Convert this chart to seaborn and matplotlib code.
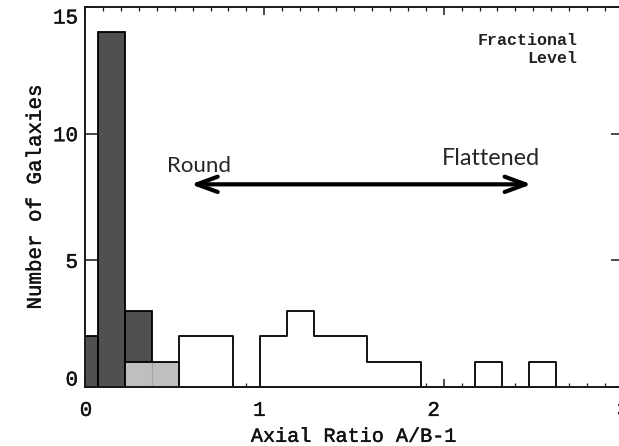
import numpy as np
import pandas as pd
import matplotlib
matplotlib.use("Agg")
import matplotlib.pyplot as plt
import matplotlib.patheffects as pe
from matplotlib.ticker import FixedLocator, MultipleLocator
from matplotlib.transforms import ScaledTranslation
import seaborn as sns

# Histogram of axial ratios: bin centres and counts per sample
bin_centers = [0.00, 0.15, 0.30, 0.45, 0.60, 0.75, 0.90, 1.05, 1.20,
               1.35, 1.50, 1.65, 1.80, 1.95, 2.10, 2.25, 2.40, 2.55]
dark_counts = [2, 14, 3, 0, 0, 0, 0, 0, 0, 0, 0, 0, 0, 0, 0, 0, 0, 0]
light_counts = [0, 0, 1, 1, 0, 0, 0, 0, 0, 0, 0, 0, 0, 0, 0, 0, 0, 0]
open_counts = [0, 0, 0, 0, 2, 2, 0, 2, 3, 2, 2, 1, 1, 0, 0, 1, 0, 1]
bin_width = 0.15

x_ticks = [0, 1, 2, 3]
y_ticks = [0, 5, 10, 15]

df = pd.DataFrame({"center": bin_centers, "dark": dark_counts,
                   "light": light_counts, "open": open_counts})
edges = [round(c - bin_width / 2, 4) for c in bin_centers]
edges.append(round(bin_centers[-1] + bin_width / 2, 4))

sns.set_style("ticks")
plt.rcParams["font.family"] = ["Liberation Mono", "DejaVu Sans Mono"]

W, H = 619, 446
fig = plt.figure(figsize=(W / 100, H / 100), dpi=100)
ax = fig.add_axes([85 / W, (H - 387) / H, 538 / W, 380 / H])

lw = 1.3
# open histogram (step outline)
sns.histplot(data=df, x="center", weights="open", bins=edges, element="step",
             fill=True, color="black", facecolor="white", edgecolor="black",
             linewidth=lw, alpha=1, ax=ax)
# dark bars
sns.histplot(data=df, x="center", weights="dark", bins=edges, element="bars",
             fill=True, color="black", facecolor="#505050", edgecolor="black",
             linewidth=lw, alpha=1, ax=ax)
# light bars with faint dividers, then a black outline around them
sns.histplot(data=df, x="center", weights="light", bins=edges, element="bars",
             fill=True, color="black", facecolor="#bfbfbf", edgecolor="#a6a6a6",
             linewidth=0.8, alpha=1, ax=ax)
sns.histplot(data=df, x="center", weights="light", bins=edges, element="step",
             fill=True, color="black", facecolor="none", edgecolor="black",
             linewidth=lw, alpha=1, ax=ax)

ax.set_xlim(0, 3)
ax.set_ylim(0, 15)
ax.xaxis.set_major_locator(FixedLocator(x_ticks))
ax.xaxis.set_minor_locator(MultipleLocator(0.1))
ax.yaxis.set_major_locator(FixedLocator(y_ticks))
ax.set_xticklabels([str(t) for t in x_ticks])
ax.set_yticklabels([str(t) for t in y_ticks])

for s in ax.spines.values():
    s.set_linewidth(1.4)
    s.set_color("#1a1a1a")
ax.tick_params(axis="both", which="both", direction="in", top=True, right=True,
               colors="#1a1a1a", labelcolor="#111111", labelsize=15)
ax.tick_params(axis="x", which="major", length=6, width=1.1, pad=10)
ax.tick_params(axis="x", which="minor", length=3, width=0.9)
ax.tick_params(axis="y", which="major", length=8.5, width=1.1, pad=5)
ax.tick_params(axis="y", which="minor", length=0)

ax.set_xlabel("Axial Ratio A/B-1", fontsize=14.5, labelpad=5, color="#111111")
ax.set_ylabel("Number of Galaxies", fontsize=15, labelpad=6, color="#111111")

# slightly heavier strokes for the axis text
heavy = [pe.withStroke(linewidth=0.3, foreground="#111111")]
for t in ax.get_xticklabels() + ax.get_yticklabels():
    t.set_path_effects(heavy)
ax.xaxis.label.set_path_effects(heavy)
ax.yaxis.label.set_path_effects(heavy)

# nudge end labels inside the frame
yt = ax.yaxis.get_major_ticks()
yt[0].label1.set_transform(yt[0].label1.get_transform()
                           + ScaledTranslation(0, 9 / 100, fig.dpi_scale_trans))
yt[-1].label1.set_transform(yt[-1].label1.get_transform()
                            + ScaledTranslation(0, -9 / 100, fig.dpi_scale_trans))
xt = ax.xaxis.get_major_ticks()
for t, dx in zip(xt, [1, -5, -10, 0]):
    t.label1.set_transform(t.label1.get_transform()
                           + ScaledTranslation(dx / 100, 0, fig.dpi_scale_trans))

ax.text(2.745, 13.5, "Fractional", ha="right", va="baseline", fontsize=12,
        fontweight="bold", color="#222222")
ax.text(2.745, 12.79, "Level", ha="right", va="baseline", fontsize=12,
        fontweight="bold", color="#222222")

ax.annotate("", xy=(2.49, 8.0), xytext=(0.59, 8.0),
            arrowprops=dict(arrowstyle="<->,head_length=1.5,head_width=0.55",
                            lw=3.0, color="black", shrinkA=0, shrinkB=0))
ax.text(0.457, 8.49, "Round", ha="left", va="baseline", fontsize=16,
        family=["Lato", "DejaVu Sans"])
ax.text(1.99, 8.76, "Flattened", ha="left", va="baseline", fontsize=16.8,
        family=["Lato", "DejaVu Sans"])

fig.savefig("out.png", dpi=100)
